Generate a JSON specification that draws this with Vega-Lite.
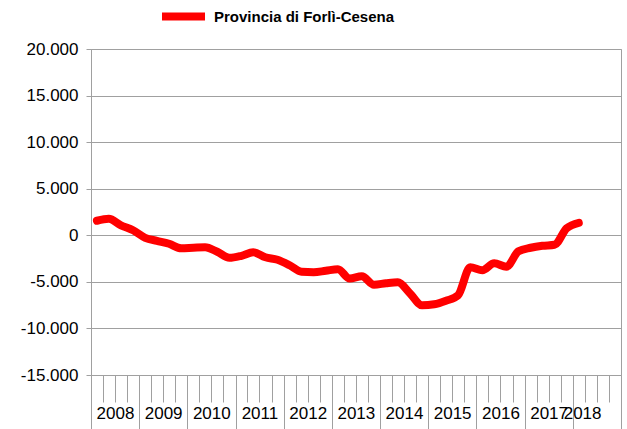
{
  "$schema": "https://vega.github.io/schema/vega-lite/v6.json",
  "width": 530,
  "height": 326,
  "autosize": "none",
  "padding": {"left": 91, "top": 49, "right": 6, "bottom": 54},
  "background": "white",
  "config": {
    "locale": {"number": {"decimal": ",", "thousands": ".", "grouping": [3], "currency": ["€", ""], "minus": "-"}},
    "view": {"stroke": "#a0a0a0", "strokeWidth": 1},
    "font": "Liberation Sans"
  },
  "data": {
    "values": [
      {"data": "2008-02-15", "valore": 1560, "serie": "Provincia di Forlì-Cesena"},
      {"data": "2008-05-15", "valore": 1770, "serie": "Provincia di Forlì-Cesena"},
      {"data": "2008-08-15", "valore": 1070, "serie": "Provincia di Forlì-Cesena"},
      {"data": "2008-11-15", "valore": 540, "serie": "Provincia di Forlì-Cesena"},
      {"data": "2009-02-15", "valore": -270, "serie": "Provincia di Forlì-Cesena"},
      {"data": "2009-05-15", "valore": -590, "serie": "Provincia di Forlì-Cesena"},
      {"data": "2009-08-15", "valore": -910, "serie": "Provincia di Forlì-Cesena"},
      {"data": "2009-11-15", "valore": -1400, "serie": "Provincia di Forlì-Cesena"},
      {"data": "2010-02-15", "valore": -1340, "serie": "Provincia di Forlì-Cesena"},
      {"data": "2010-05-15", "valore": -1290, "serie": "Provincia di Forlì-Cesena"},
      {"data": "2010-08-15", "valore": -1770, "serie": "Provincia di Forlì-Cesena"},
      {"data": "2010-11-15", "valore": -2420, "serie": "Provincia di Forlì-Cesena"},
      {"data": "2011-02-15", "valore": -2200, "serie": "Provincia di Forlì-Cesena"},
      {"data": "2011-05-15", "valore": -1830, "serie": "Provincia di Forlì-Cesena"},
      {"data": "2011-08-15", "valore": -2360, "serie": "Provincia di Forlì-Cesena"},
      {"data": "2011-11-15", "valore": -2630, "serie": "Provincia di Forlì-Cesena"},
      {"data": "2012-02-15", "valore": -3220, "serie": "Provincia di Forlì-Cesena"},
      {"data": "2012-05-15", "valore": -3920, "serie": "Provincia di Forlì-Cesena"},
      {"data": "2012-08-15", "valore": -3970, "serie": "Provincia di Forlì-Cesena"},
      {"data": "2012-11-15", "valore": -3810, "serie": "Provincia di Forlì-Cesena"},
      {"data": "2013-02-15", "valore": -3650, "serie": "Provincia di Forlì-Cesena"},
      {"data": "2013-05-15", "valore": -4650, "serie": "Provincia di Forlì-Cesena"},
      {"data": "2013-08-15", "valore": -4400, "serie": "Provincia di Forlì-Cesena"},
      {"data": "2013-11-15", "valore": -5310, "serie": "Provincia di Forlì-Cesena"},
      {"data": "2014-02-15", "valore": -5150, "serie": "Provincia di Forlì-Cesena"},
      {"data": "2014-05-15", "valore": -5050, "serie": "Provincia di Forlì-Cesena"},
      {"data": "2014-08-15", "valore": -6230, "serie": "Provincia di Forlì-Cesena"},
      {"data": "2014-11-15", "valore": -7520, "serie": "Provincia di Forlì-Cesena"},
      {"data": "2015-02-15", "valore": -7410, "serie": "Provincia di Forlì-Cesena"},
      {"data": "2015-05-15", "valore": -7030, "serie": "Provincia di Forlì-Cesena"},
      {"data": "2015-08-15", "valore": -6440, "serie": "Provincia di Forlì-Cesena"},
      {"data": "2015-11-15", "valore": -3440, "serie": "Provincia di Forlì-Cesena"},
      {"data": "2016-02-15", "valore": -3760, "serie": "Provincia di Forlì-Cesena"},
      {"data": "2016-05-15", "valore": -3010, "serie": "Provincia di Forlì-Cesena"},
      {"data": "2016-08-15", "valore": -3380, "serie": "Provincia di Forlì-Cesena"},
      {"data": "2016-11-15", "valore": -1720, "serie": "Provincia di Forlì-Cesena"},
      {"data": "2017-02-15", "valore": -1340, "serie": "Provincia di Forlì-Cesena"},
      {"data": "2017-05-15", "valore": -1130, "serie": "Provincia di Forlì-Cesena"},
      {"data": "2017-08-15", "valore": -1020, "serie": "Provincia di Forlì-Cesena"},
      {"data": "2017-11-15", "valore": 750, "serie": "Provincia di Forlì-Cesena"},
      {"data": "2018-02-15", "valore": 1340, "serie": "Provincia di Forlì-Cesena"}
    ]
  },
  "mark": {"type": "line", "strokeWidth": 8, "strokeCap": "round", "strokeJoin": "round", "interpolate": "monotone"},
  "encoding": {
    "x": {
      "field": "data",
      "type": "temporal",
      "scale": {"type": "utc", "domain": [{"year": 2008, "month": 1, "date": 1, "utc": true}, {"year": 2019, "month": 1, "date": 1, "utc": true}]},
      "axis": {
        "title": null,
        "grid": false,
        "domain": true,
        "domainColor": "#a0a0a0",
        "tickColor": "#a0a0a0",
        "values": [
          {"year": 2008, "month": 1, "date": 1, "utc": true}, {"year": 2008, "month": 4, "date": 1, "utc": true}, {"year": 2008, "month": 7, "date": 1, "utc": true}, {"year": 2008, "month": 10, "date": 1, "utc": true},
          {"year": 2009, "month": 1, "date": 1, "utc": true}, {"year": 2009, "month": 4, "date": 1, "utc": true}, {"year": 2009, "month": 7, "date": 1, "utc": true}, {"year": 2009, "month": 10, "date": 1, "utc": true},
          {"year": 2010, "month": 1, "date": 1, "utc": true}, {"year": 2010, "month": 4, "date": 1, "utc": true}, {"year": 2010, "month": 7, "date": 1, "utc": true}, {"year": 2010, "month": 10, "date": 1, "utc": true},
          {"year": 2011, "month": 1, "date": 1, "utc": true}, {"year": 2011, "month": 4, "date": 1, "utc": true}, {"year": 2011, "month": 7, "date": 1, "utc": true}, {"year": 2011, "month": 10, "date": 1, "utc": true},
          {"year": 2012, "month": 1, "date": 1, "utc": true}, {"year": 2012, "month": 4, "date": 1, "utc": true}, {"year": 2012, "month": 7, "date": 1, "utc": true}, {"year": 2012, "month": 10, "date": 1, "utc": true},
          {"year": 2013, "month": 1, "date": 1, "utc": true}, {"year": 2013, "month": 4, "date": 1, "utc": true}, {"year": 2013, "month": 7, "date": 1, "utc": true}, {"year": 2013, "month": 10, "date": 1, "utc": true},
          {"year": 2014, "month": 1, "date": 1, "utc": true}, {"year": 2014, "month": 4, "date": 1, "utc": true}, {"year": 2014, "month": 7, "date": 1, "utc": true}, {"year": 2014, "month": 10, "date": 1, "utc": true},
          {"year": 2015, "month": 1, "date": 1, "utc": true}, {"year": 2015, "month": 4, "date": 1, "utc": true}, {"year": 2015, "month": 7, "date": 1, "utc": true}, {"year": 2015, "month": 10, "date": 1, "utc": true},
          {"year": 2016, "month": 1, "date": 1, "utc": true}, {"year": 2016, "month": 4, "date": 1, "utc": true}, {"year": 2016, "month": 7, "date": 1, "utc": true}, {"year": 2016, "month": 10, "date": 1, "utc": true},
          {"year": 2017, "month": 1, "date": 1, "utc": true}, {"year": 2017, "month": 4, "date": 1, "utc": true}, {"year": 2017, "month": 7, "date": 1, "utc": true}, {"year": 2017, "month": 10, "date": 1, "utc": true},
          {"year": 2018, "month": 1, "date": 1, "utc": true}, {"year": 2018, "month": 3, "date": 12, "utc": true}, {"year": 2018, "month": 4, "date": 1, "utc": true}, {"year": 2018, "month": 7, "date": 1, "utc": true}, {"year": 2018, "month": 10, "date": 1, "utc": true},
          {"year": 2019, "month": 1, "date": 1, "utc": true}
        ],
        "labelExpr": "utcdate(datum.value) !== 1 ? '2018' : (utcmonth(datum.value) === 6 && utcyear(datum.value) < 2018 ? '' + utcyear(datum.value) : '')",
        "tickSize": {"condition": {"test": "utcmonth(datum.value) === 0 && utcdate(datum.value) === 1", "value": 56}, "value": 27},
        "tickOpacity": {"condition": {"test": "utcdate(datum.value) !== 1", "value": 0}, "value": 1},
        "tickWidth": 1,
        "labelOverlap": false,
        "labelFlush": false,
        "labelBound": false,
        "labelAlign": "center",
        "labelBaseline": "top",
        "labelPadding": 3,
        "labelFontSize": 17,
        "labelColor": "#000000",
        "labelFont": "Liberation Sans"
      }
    },
    "y": {
      "field": "valore",
      "type": "quantitative",
      "scale": {"domain": [-15000, 20000], "nice": false, "zero": false},
      "axis": {
        "title": null,
        "values": [-15000, -10000, -5000, 0, 5000, 10000, 15000, 20000],
        "format": ",d",
        "grid": true,
        "gridColor": "#a0a0a0",
        "gridWidth": 1,
        "domainColor": "#a0a0a0",
        "tickColor": "#a0a0a0",
        "tickSize": 5,
        "labelPadding": 8,
        "labelFontSize": 17,
        "labelColor": "#000000",
        "labelFont": "Liberation Sans"
      }
    },
    "color": {
      "field": "serie",
      "type": "nominal",
      "scale": {"domain": ["Provincia di Forlì-Cesena"], "range": ["#ff0000"]},
      "legend": {
        "title": null,
        "orient": "none",
        "legendX": 67,
        "legendY": -58,
        "padding": 0,
        "symbolType": "stroke",
        "symbolSize": 1849,
        "symbolStrokeWidth": 8,
        "labelFontSize": 15,
        "labelFontWeight": "bold",
        "labelColor": "#000000",
        "labelFont": "Liberation Sans",
        "labelLimit": 0,
        "labelOffset": 5
      }
    }
  }
}
